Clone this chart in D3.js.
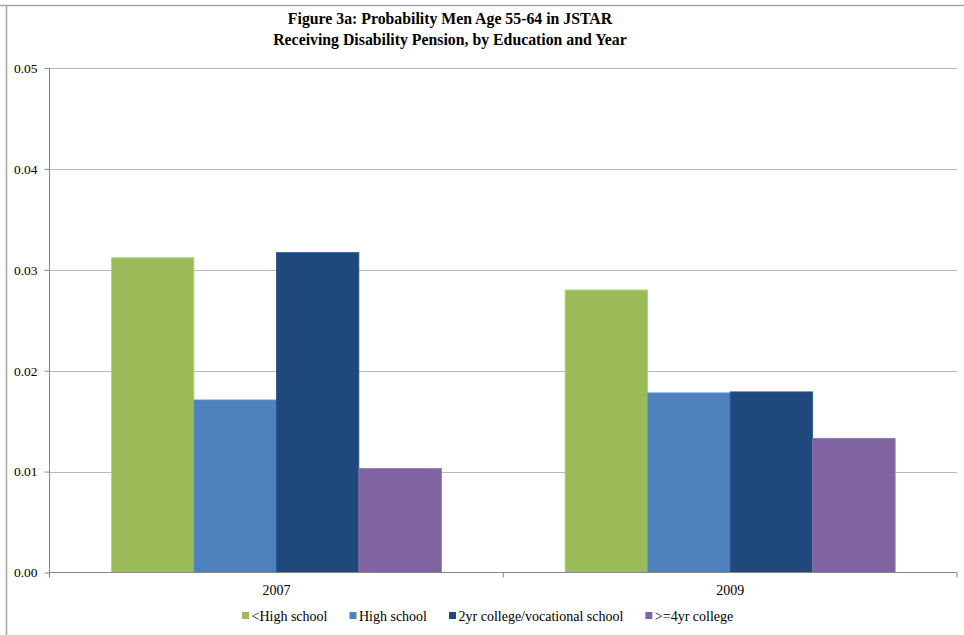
<!DOCTYPE html>
<html><head><meta charset="utf-8">
<script src="https://cdn.jsdelivr.net/npm/d3@7"></script>
<style>
body{margin:0;background:#fff;}
svg{display:block;font-family:"Liberation Serif","Times New Roman",serif;}
</style></head>
<body><svg id="c" width="964" height="635"></svg>
<script>
const years = ["2007", "2009"];
const seriesNames = ["<High school", "High school", "2yr college/vocational school", ">=4yr college"];
const seriesColors = ["#9BBB59", "#4F81BD", "#1F497D", "#8064A2"];
const values2007 = [0.0312, 0.0171, 0.0317, 0.0103];
const values2009 = [0.0280, 0.0178, 0.0179, 0.0133];
const yTicks = [0, 0.01, 0.02, 0.03, 0.04, 0.05];
const titleLines = ["Figure 3a: Probability Men Age 55-64 in JSTAR", "Receiving Disability Pension, by Education and Year"];

const valuesByYear = [values2007, values2009];
const svg = d3.select("#c");

// outer frame
svg.append("line").attr("x1",0).attr("x2",964).attr("y1",5.5).attr("y2",5.5).attr("stroke","#a6a6a6").attr("stroke-width",1.5);
svg.append("line").attr("x1",6.5).attr("x2",6.5).attr("y1",5).attr("y2",635).attr("stroke","#a6a6a6").attr("stroke-width",1.5);

const L = 49.5, R = 957, T = 68, B = 572.5;
const x0 = d3.scaleBand().domain(years).range([L, R]).paddingInner(0).paddingOuter(0);
const barW = x0.bandwidth() / (4 + 1.5);
const x1 = d3.scaleBand().domain(seriesNames).range([0, barW*4]);
const y = d3.scaleLinear().domain([0, 0.05]).range([B, T]);

// gridlines
svg.append("g").selectAll("line").data(yTicks.slice(1)).join("line")
  .attr("x1", L).attr("x2", R).attr("y1", d => Math.round(y(d))+0.5).attr("y2", d => Math.round(y(d))+0.5)
  .attr("stroke", "#b8b8b8").attr("stroke-width", 1.2);

// bars
const groups = svg.append("g").selectAll("g").data(years).join("g")
  .attr("transform", d => `translate(${x0(d) + barW*0.75},0)`);
groups.selectAll("rect").data((d,i) => valuesByYear[i].map((v,j) => ({v, s: seriesNames[j], c: seriesColors[j]})))
  .join("rect")
  .attr("x", d => x1(d.s)).attr("width", x1.bandwidth())
  .attr("y", d => y(d.v)).attr("height", d => B - y(d.v))
  .attr("fill", d => d.c)
  .attr("stroke", d => d3.color(d.c).brighter(0.4)).attr("stroke-width", 0.8);

// y axis
const yAxis = d3.axisLeft(y).tickValues(yTicks).tickFormat(d3.format(".2f")).tickSize(5).tickPadding(8);
const yg = svg.append("g").attr("transform", `translate(${L},0)`).call(yAxis);
yg.select(".domain").attr("stroke", "#868686").attr("d", `M0,${T}V${B}`);
yg.selectAll(".tick line").attr("stroke", "#868686");
yg.selectAll(".tick text").attr("font-size", 13.5).attr("fill", "#000").attr("font-family", "Liberation Serif").attr("dx", 1);

// x axis
const xg = svg.append("g").attr("transform", `translate(0,${B})`);
xg.append("line").attr("x1", L).attr("x2", R).attr("y1", 0).attr("y2", 0).attr("stroke", "#868686");
const bounds = [L, x0("2009"), R];
xg.selectAll("line.t").data(bounds).join("line").attr("class","t")
  .attr("x1", d => d).attr("x2", d => d).attr("y1", 0).attr("y2", 5).attr("stroke", "#868686");
xg.selectAll("text").data(years).join("text")
  .attr("x", d => x0(d) + x0.bandwidth()/2).attr("y", 22)
  .attr("text-anchor", "middle").attr("font-size", 14).text(d => d);

// title
svg.append("g").selectAll("text").data(titleLines).join("text")
  .attr("x", 450).attr("y", (d,i) => 24 + i*21)
  .attr("text-anchor", "middle").attr("font-weight", "bold").attr("font-size", 15.8).text(d => d);

// legend
const leg = svg.append("g").attr("transform", "translate(242,616)");
let lx = 0;
seriesNames.forEach((name, i) => {
  const g = leg.append("g").attr("transform", `translate(${lx},0)`);
  g.append("rect").attr("x", 0).attr("y", -4).attr("width", 7).attr("height", 7).attr("fill", seriesColors[i]);
  const t = g.append("text").attr("x", 9.5).attr("y", 5).attr("font-size", 14).text(name);
  lx += 9.5 + t.node().getComputedTextLength() + 22;
});
</script></body></html>
